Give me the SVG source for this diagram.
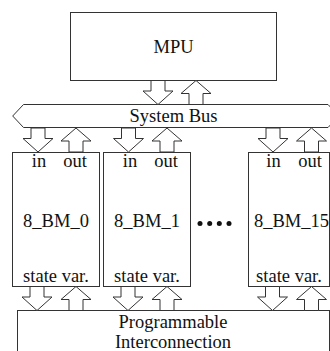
<svg xmlns="http://www.w3.org/2000/svg" width="330" height="351" viewBox="0 0 330 351">
<defs>
<style>
.box{fill:#fff;stroke:#333;stroke-width:1}
.t{font-family:"Liberation Serif","Times New Roman",serif;font-size:18.5px;fill:#111;text-anchor:middle}
.arr{fill:#fff;stroke:#333;stroke-width:1;stroke-linejoin:miter}
</style>
<path id="dn" class="arr" d="M-7,0 H7 V10.5 H15 L0,24 L-15,10.5 H-7 Z"/>
<path id="up" class="arr" d="M-7,24 H7 V13 H15 L0,0 L-15,13 H-7 Z"/>
</defs>
<rect width="330" height="351" fill="#fff"/>
<g id="mpu">
<rect class="box" x="70.5" y="12.5" width="206" height="68"/>
<text class="t" x="173.5" y="53">MPU</text>
</g>
<g id="bus">
<path class="box" d="M12.7,116 L23.5,104.5 H328 L339,116 L328,127.5 H23.5 Z"/>
<text class="t" x="173.5" y="122">System Bus</text>
</g>
<g id="bm0">
<rect class="box" x="12.5" y="152.5" width="87" height="134"/>
<text class="t" x="39" y="167">in</text>
<text class="t" x="75" y="167">out</text>
<text class="t" x="56" y="227">8_BM_0</text>
<text class="t" x="56" y="282">state var.</text>
</g>
<g id="bm1">
<rect class="box" x="103.5" y="152.5" width="87" height="134"/>
<text class="t" x="130" y="167">in</text>
<text class="t" x="166" y="167">out</text>
<text class="t" x="147" y="227">8_BM_1</text>
<text class="t" x="147" y="282">state var.</text>
</g>
<g id="dots" fill="#111">
<circle cx="200" cy="223.5" r="2.5"/>
<circle cx="209.7" cy="223.5" r="2.5"/>
<circle cx="219.3" cy="223.5" r="2.5"/>
<circle cx="229" cy="223.5" r="2.5"/>
</g>
<g id="bm15">
<rect class="box" x="248.5" y="152.5" width="81" height="134"/>
<text class="t" x="273.5" y="167">in</text>
<text class="t" x="310" y="167">out</text>
<text class="t" x="291.5" y="227">8_BM_15</text>
<text class="t" x="289" y="282">state var.</text>
</g>
<g id="interconnect">
<rect class="box" x="17.5" y="310.5" width="312" height="60"/>
<text class="t" x="173" y="327.5">Programmable</text>
<text class="t" x="173" y="348">Interconnection</text>
</g>
<g id="connectors">
<use href="#dn" x="158" y="80.5"/>
<use href="#up" x="196" y="80.5"/>
<use href="#dn" x="38" y="128"/>
<use href="#up" x="76" y="128"/>
<use href="#dn" x="128.5" y="128"/>
<use href="#up" x="167" y="128"/>
<use href="#dn" x="273" y="128"/>
<use href="#up" x="311.5" y="128"/>
<use href="#dn" x="37" y="286.5"/>
<use href="#up" x="76" y="286.5"/>
<use href="#dn" x="128" y="286.5"/>
<use href="#up" x="167" y="286.5"/>
<use href="#dn" x="272.5" y="286.5"/>
<use href="#up" x="311.5" y="286.5"/>
</g>
</svg>
